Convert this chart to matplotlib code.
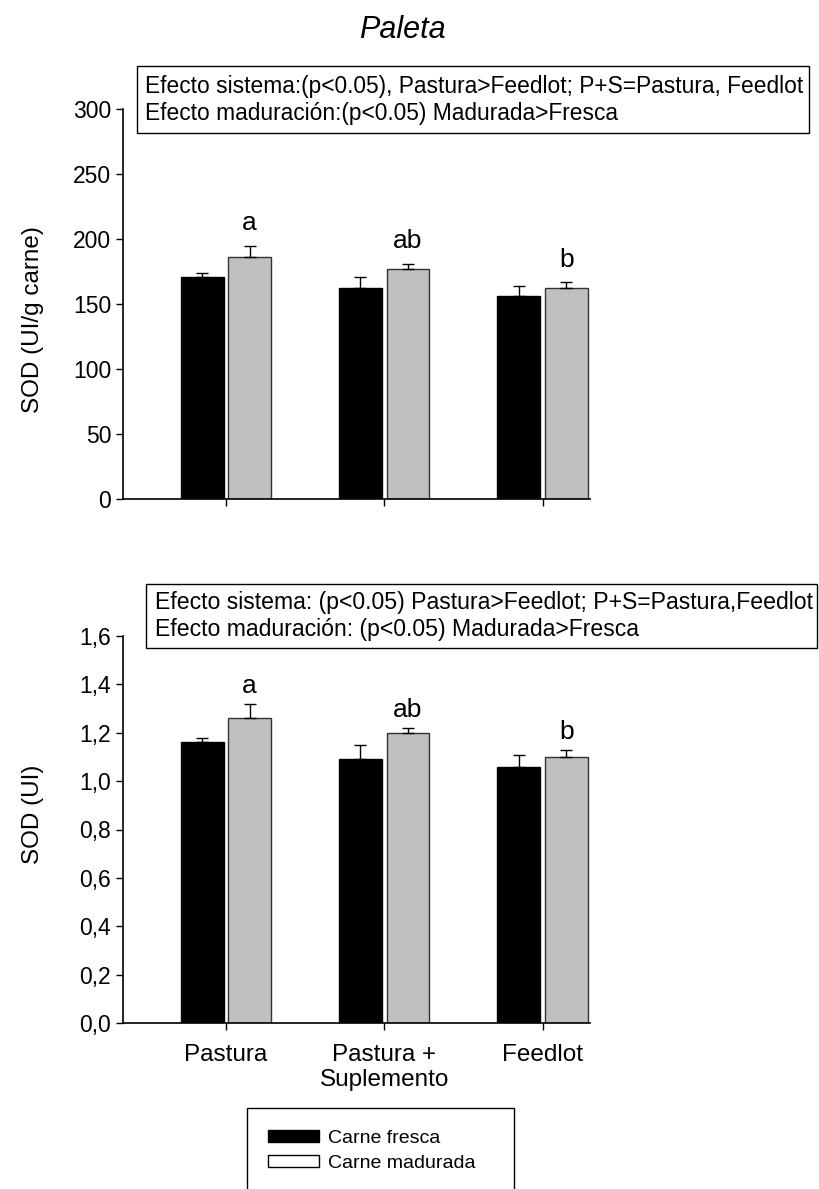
import matplotlib
matplotlib.use("Agg")
import matplotlib.pyplot as plt
from matplotlib.patches import Rectangle, Patch
import numpy as np

plt.rcParams["font.family"] = ["Liberation Sans", "DejaVu Sans"]

# === Data ===
categories = ["Pastura", "Pastura +\nSuplemento", "Feedlot"]
series_names = ["Carne fresca", "Carne madurada"]

# SOD (UI/g carne)
fresca_g = [171, 162, 156]
fresca_g_err = [3, 9, 8]
madurada_g = [186, 177, 162]
madurada_g_err = [9, 4, 5]

# SOD (UI)
fresca_ui = [1.16, 1.09, 1.06]
fresca_ui_err = [0.02, 0.06, 0.05]
madurada_ui = [1.26, 1.20, 1.10]
madurada_ui_err = [0.06, 0.02, 0.03]

letters = ["a", "ab", "b"]

top_ticks = [0, 50, 100, 150, 200, 250, 300]
bottom_ticks = [0.0, 0.2, 0.4, 0.6, 0.8, 1.0, 1.2, 1.4, 1.6]

note_top = ("Efecto sistema:(p<0.05), Pastura>Feedlot; P+S=Pastura, Feedlot\n"
            "Efecto maduración:(p<0.05) Madurada>Fresca")
note_bottom = ("Efecto sistema: (p<0.05) Pastura>Feedlot; P+S=Pastura,Feedlot\n"
               "Efecto maduración: (p<0.05) Madurada>Fresca")

W, H = 819, 1189
fig = plt.figure(figsize=(W / 100, H / 100), dpi=100)

ax1 = fig.add_axes([123 / W, 1 - 499 / H, 467 / W, 390 / H])
ax2 = fig.add_axes([123 / W, 1 - 1023 / H, 467 / W, 387 / H])

x = np.arange(len(categories))
width = 0.27
off = 0.15


def draw_panel(ax, fr, fr_err, md, md_err, ymax, ticks, ylabel, text_off):
    ax.bar(x - off, fr, width, color="black", edgecolor="black", linewidth=1, zorder=2)
    ax.bar(x + off, md, width, color="#c0c0c0", edgecolor="#333333", linewidth=1, zorder=2)
    ax.errorbar(x - off, fr, yerr=[np.zeros(3), fr_err], fmt="none",
                ecolor="black", elinewidth=1, capsize=4, capthick=1, zorder=3)
    ax.errorbar(x + off, md, yerr=[np.zeros(3), md_err], fmt="none",
                ecolor="black", elinewidth=1, capsize=4, capthick=1, zorder=3)
    for xi, v, e, lab in zip(x + off, md, md_err, letters):
        ax.annotate(lab, (xi, v + e), xytext=(0, text_off), textcoords="offset points",
                    ha="center", va="baseline", fontsize=19)
    ax.set_xlim(-0.65, 2.30)
    ax.set_ylim(0, ymax)
    ax.set_xticks(x)
    ax.set_yticks(ticks)
    for s in ["top", "right"]:
        ax.spines[s].set_visible(False)
    for s in ["left", "bottom"]:
        ax.spines[s].set_linewidth(1.2)
    ax.tick_params(direction="out", length=5, width=1, labelsize=16.5)
    ax.set_ylabel(ylabel, fontsize=17.5)


draw_panel(ax1, fresca_g, fresca_g_err, madurada_g, madurada_g_err, 300,
           top_ticks, "SOD (UI/g carne)", 11)
ax1.set_xticklabels([])
ax1.yaxis.set_label_coords(-0.17, 0.46)

draw_panel(ax2, fresca_ui, fresca_ui_err, madurada_ui, madurada_ui_err, 1.6,
           bottom_ticks, "SOD (UI)", 8)
ax2.set_yticklabels([f"{t:.1f}".replace(".", ",") for t in bottom_ticks])
ax2.set_xticklabels(categories, fontsize=17.5, linespacing=1.2)
ax2.tick_params(axis="x", pad=10)
ax2.yaxis.set_label_coords(-0.17, 0.54)

# title
fig.text(402 / W, 1 - 30 / H, "Paleta", fontsize=22, style="italic",
         ha="center", va="center")

# note boxes
fig.patches.append(Rectangle((137 / W, 1 - 133 / H), 672 / W, 67 / H,
                             transform=fig.transFigure, fill=False,
                             edgecolor="black", linewidth=1))
fig.text(145 / W, 1 - 100 / H, note_top, fontsize=16.4, ha="left", va="center",
         linespacing=1.2)
fig.patches.append(Rectangle((146 / W, 1 - 648 / H), 671 / W, 64 / H,
                             transform=fig.transFigure, fill=False,
                             edgecolor="black", linewidth=1))
fig.text(155 / W, 1 - 616 / H, note_bottom, fontsize=16.6, ha="left", va="center",
         linespacing=1.2)

# legend
fig.patches.append(Rectangle((247 / W, 1 - 1196 / H), 267 / W, 88 / H,
                             transform=fig.transFigure, fill=False,
                             edgecolor="black", linewidth=1))
handles = [Patch(facecolor="black", edgecolor="black"),
           Patch(facecolor="white", edgecolor="black", linewidth=1)]
fig.legend(handles, series_names, loc="upper left",
           bbox_to_anchor=(268 / W, 1 - 1130 / H), frameon=False, fontsize=14,
           handlelength=2.6, handleheight=0.55, handletextpad=0.5,
           labelspacing=0.4, borderpad=0, borderaxespad=0)

fig.savefig("out.png", dpi=100)
